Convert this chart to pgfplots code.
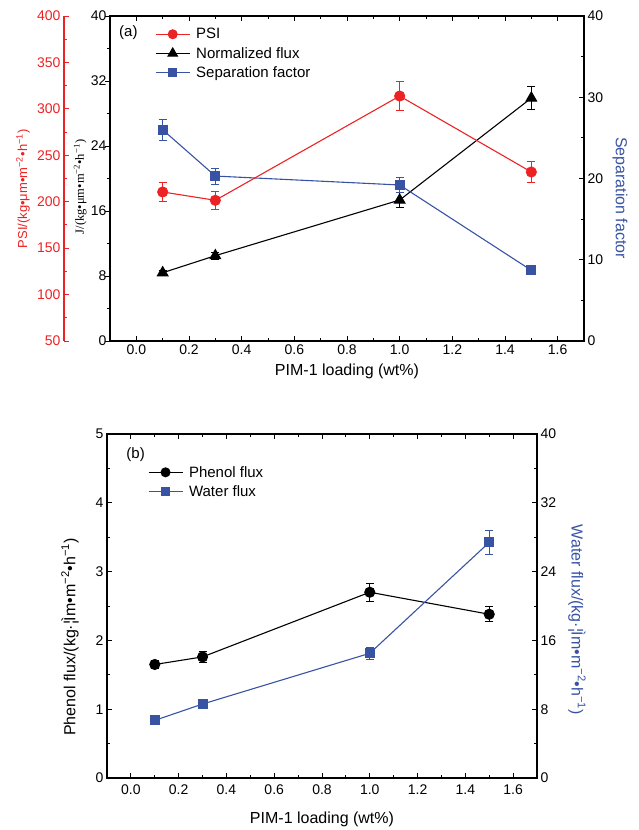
\documentclass[border=0pt]{standalone}
\usepackage{pgfplots}
\pgfplotsset{compat=1.18}
\usepackage{fontspec}
\setmainfont{Liberation Sans}
\newfontfamily\seriffont{Liberation Serif}
\definecolor{pred}{RGB}{237,34,36}
\definecolor{pblue}{RGB}{56,83,164}
\pgfplotsset{
  base/.style={
    scale only axis,
    xmin=-0.1, xmax=1.7,
    tick label style={font=\fontsize{14}{16}\selectfont},
    label style={font=\fontsize{16}{18}\selectfont},
    axis line style={line width=1.1pt},
    major tick length=5pt, minor tick length=3pt,
    every tick/.style={line width=0.9pt, black},
    /pgf/number format/assume math mode=true,
  },
  eb/.style={error bars/.cd, y dir=both, y explicit,
    error bar style={line width=0.8pt},
    error mark options={rotate=90, mark size=4pt, line width=0.8pt}},
  legimg/.style={legend image code/.code={\draw[mark repeat=2,mark phase=2,##1] plot coordinates {(0pt,0pt) (17pt,0pt) (34pt,0pt)};}},
}
\begin{document}
\begin{tikzpicture}
\path[use as bounding box] (0pt,0pt) rectangle (638pt,830pt);
% ===== Top panel: J axis =====
\begin{axis}[base,
  at={(110pt,489pt)}, anchor=south west,
  width=474pt, height=325pt,
  ymin=0, ymax=40, ytick={0,8,...,40}, minor y tick num=1,
  xtick={0,0.2,...,1.6}, minor x tick num=1,
  xticklabel style={/pgf/number format/.cd, fixed, fixed zerofill, precision=1},
  tick align=inside, ytick pos=left, xtick pos=both,
  every major y tick/.append style={xshift=-5pt},
  every minor y tick/.append style={xshift=-3pt},
  xlabel={PIM-1 loading (wt\%)},
  xlabel style={yshift=-3pt},
  ylabel={\seriffont J/(kg•μm•m\textsuperscript{−2}•h\textsuperscript{−1})},
  every axis y label/.style={at={(axis description cs:-0.063,0.474)}, rotate=90, anchor=center, font=\fontsize{12.5}{14}\selectfont},
  legimg,
  legend style={at={(axis description cs:0.095,0.969)}, anchor=north west, draw=none, fill=none,
    font=\fontsize{15}{17}\selectfont, inner sep=0pt, row sep=3pt,
    /tikz/every odd column/.append style={column sep=4pt}},
  legend cell align=left,
]
\addlegendimage{pred, line width=1pt, mark=*, mark size=4.5pt}
\addlegendentry{PSI}
\addlegendimage{black, line width=1pt, mark=triangle*, mark size=5.5pt}
\addlegendentry{Normalized flux}
\addlegendimage{pblue, line width=1pt, mark=square*, mark size=4pt}
\addlegendentry{Separation factor}
\addplot[forget plot, black, line width=1.1pt, mark=triangle*, mark size=6pt, eb] table[x=x, y=y, y error=e] {
x y e
0.1 8.4 0.3
0.3 10.5 0.4
1.0 17.35 0.9
1.5 29.9 1.4
};
\node[anchor=west, font=\fontsize{15}{17}\selectfont] at (axis description cs:0.012,0.948) {(a)};
\end{axis}
% ===== Top panel: Separation factor axis (right) =====
\begin{axis}[base,
  at={(110pt,489pt)}, anchor=south west,
  width=474pt, height=325pt,
  hide x axis, axis y line*=right,
  ymin=0, ymax=40, ytick={0,10,...,40}, minor y tick num=1,
  tick align=inside,
  ylabel={Separation factor},
  every axis y label/.style={at={(axis description cs:1.076,0.44)}, rotate=-90, anchor=center, font=\fontsize{16}{18}\selectfont, text=pblue},
]
\addplot[pblue, line width=1.1pt, mark=square*, mark size=4.5pt, eb] table[x=x, y=y, y error=e] {
x y e
0.1 26.0 1.3
0.3 20.3 1.0
1.0 19.2 0.9
1.5 8.7 0.2
};
\end{axis}
% ===== Top panel: PSI axis (offset left, red) =====
\begin{axis}[base,
  at={(110pt,489pt)}, anchor=south west,
  width=474pt, height=325pt,
  hide x axis, axis y line*=left,
  ymin=50, ymax=400, ytick={50,100,...,400}, minor y tick num=1,
  tick align=inside,
  y axis line style={pred, xshift=-46pt},
  every y tick/.append style={pred, xshift=-46pt},
  yticklabel style={text=pred, xshift=-46pt},
  ylabel={PSI/(kg•μm•m\textsuperscript{−2}•h\textsuperscript{−1})},
  every axis y label/.style={at={(axis description cs:-0.1835,0.468)}, rotate=90, anchor=center, font=\fontsize{13}{15}\selectfont, text=pred},
]
\addplot[pred, line width=1.1pt, mark=*, mark size=5pt, eb] table[x=x, y=y, y error=e] {
x y e
0.1 210.5 10.5
0.3 201.5 10
1.0 313.8 15.5
1.5 232 11.5
};
\end{axis}
% ===== Bottom panel: phenol flux =====
\begin{axis}[base,
  at={(107pt,52pt)}, anchor=south west,
  width=430pt, height=344pt,
  ymin=0, ymax=5, ytick={0,1,...,5}, minor y tick num=1,
  xtick={0,0.2,...,1.6}, minor x tick num=1,
  xticklabel style={yshift=-3pt, /pgf/number format/.cd, fixed, fixed zerofill, precision=1},
  tick align=inside, ytick pos=left, xtick pos=both,
  xlabel={PIM-1 loading (wt\%)},
  xlabel style={yshift=-11pt},
  ylabel={Phenol flux/(kg·¦\kern-0.5ptÌm•m\textsuperscript{−2}•h\textsuperscript{−1})},
  every axis y label/.style={at={(axis description cs:-0.086,0.41)}, rotate=90, anchor=center, font=\fontsize{16}{18}\selectfont},
  legimg,
  legend style={at={(axis description cs:0.095,0.913)}, anchor=north west, draw=none, fill=none,
    font=\fontsize{15}{17}\selectfont, inner sep=0pt, row sep=3pt,
    /tikz/every odd column/.append style={column sep=4pt}},
  legend cell align=left,
]
\addlegendimage{black, line width=1pt, mark=*, mark size=4.5pt}
\addlegendentry{Phenol flux}
\addlegendimage{pblue, line width=1pt, mark=square*, mark size=4pt}
\addlegendentry{Water flux}
\addplot[forget plot, black, line width=1.1pt, mark=*, mark size=5pt, eb] table[x=x, y=y, y error=e] {
x y e
0.1 1.65 0.06
0.3 1.76 0.08
1.0 2.70 0.13
1.5 2.38 0.11
};
\node[anchor=west, font=\fontsize{15}{17}\selectfont] at (axis description cs:0.037,0.939) {(b)};
\end{axis}
% ===== Bottom panel: water flux (right) =====
\begin{axis}[base,
  at={(107pt,52pt)}, anchor=south west,
  width=430pt, height=344pt,
  hide x axis, axis y line*=right,
  ymin=0, ymax=40, ytick={0,8,...,40}, minor y tick num=1,
  tick align=inside,
  ylabel={Water flux/(kg·¦\kern-0.5ptÌm•m\textsuperscript{−2}•h\textsuperscript{−1})},
  every axis y label/.style={at={(axis description cs:1.093,0.46)}, rotate=-90, anchor=center, font=\fontsize{16}{18}\selectfont, text=pblue},
]
\addplot[pblue, line width=1.1pt, mark=square*, mark size=4.5pt, eb] table[x=x, y=y, y error=e] {
x y e
0.1 6.7 0.2
0.3 8.6 0.3
1.0 14.5 0.7
1.5 27.4 1.4
};
\end{axis}
\end{tikzpicture}
\end{document}
